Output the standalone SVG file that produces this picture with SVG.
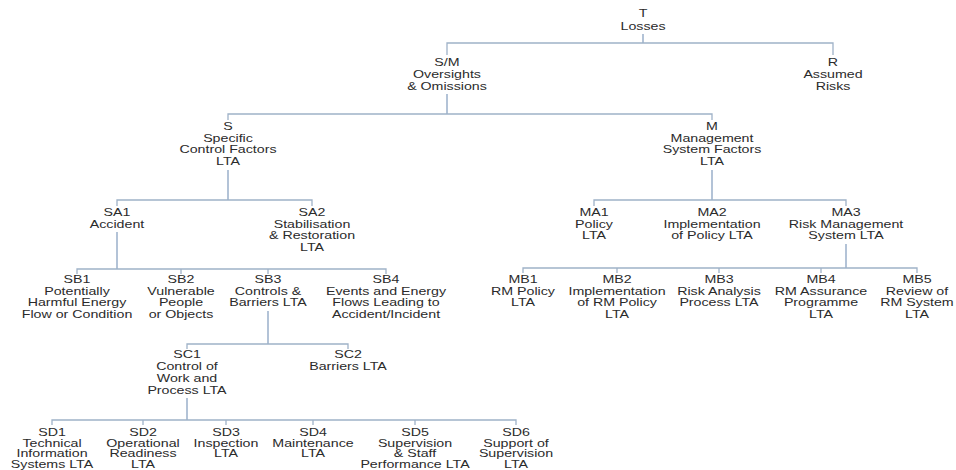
<svg xmlns="http://www.w3.org/2000/svg" width="956" height="470" viewBox="0 0 956 470">
<style>
text{font-family:"Liberation Sans",Arial,sans-serif;font-size:10.3px;fill:#2b2b2b;text-anchor:middle}
.c path{fill:none;stroke:#9fb2c8;stroke-width:1.3}
.c path.s{stroke:#8aa3c2}
</style>
<rect width="956" height="470" fill="#fff"/>
<g class="c" id="connectors">
<path class="s" d="M643 34V43"/>
<path d="M447 55V43H833V55"/>
<path class="s" d="M447 94V114"/>
<path d="M228 120V114H712V120"/>
<path class="s" d="M228 170V200"/>
<path d="M117 206V200H312V206"/>
<path class="s" d="M712 170V200"/>
<path d="M594 206V200H846V206"/>
<path class="s" d="M117 232V269"/>
<path d="M77 274V269H386V274M181 269V274M268 269V274"/>
<path class="s" d="M846 244V268"/>
<path d="M523 273V268H917V273M617 268V273M719 268V273M821 268V273"/>
<path class="s" d="M268 311V344"/>
<path d="M187 349V344H348V349"/>
<path class="s" d="M187 398V420"/>
<path d="M52 425V420H516V425M143 420V425M226 420V425M313 420V425M415 420V425"/>
</g>
<g id="T" transform="translate(643,0)"><text transform="scale(1.38 1)"><tspan x="0" y="17.5">T</tspan><tspan x="0" y="30.5">Losses</tspan></text></g>
<g id="SM" transform="translate(447,0)"><text transform="scale(1.38 1)"><tspan x="0" y="66.5">S/M</tspan><tspan x="0" y="78.5">Oversights</tspan><tspan x="0" y="90.5">&amp; Omissions</tspan></text></g>
<g id="R" transform="translate(833,0)"><text transform="scale(1.38 1)"><tspan x="0" y="66.5">R</tspan><tspan x="0" y="78.5">Assumed</tspan><tspan x="0" y="90.5">Risks</tspan></text></g>
<g id="S" transform="translate(228,0)"><text transform="scale(1.38 1)"><tspan x="0" y="130.5">S</tspan><tspan x="0" y="142">Specific</tspan><tspan x="0" y="153.5">Control Factors</tspan><tspan x="0" y="165">LTA</tspan></text></g>
<g id="M" transform="translate(712,0)"><text transform="scale(1.38 1)"><tspan x="0" y="130.5">M</tspan><tspan x="0" y="142">Management</tspan><tspan x="0" y="153.5">System Factors</tspan><tspan x="0" y="165">LTA</tspan></text></g>
<g id="SA1" transform="translate(117,0)"><text transform="scale(1.38 1)"><tspan x="0" y="216.5">SA1</tspan><tspan x="0" y="228">Accident</tspan></text></g>
<g id="SA2" transform="translate(312,0)"><text transform="scale(1.38 1)"><tspan x="0" y="216.5">SA2</tspan><tspan x="0" y="228">Stabilisation</tspan><tspan x="0" y="239.5">&amp; Restoration</tspan><tspan x="0" y="251">LTA</tspan></text></g>
<g id="MA1" transform="translate(594,0)"><text transform="scale(1.38 1)"><tspan x="0" y="216.5">MA1</tspan><tspan x="0" y="228">Policy</tspan><tspan x="0" y="239.5">LTA</tspan></text></g>
<g id="MA2" transform="translate(712,0)"><text transform="scale(1.38 1)"><tspan x="0" y="216.5">MA2</tspan><tspan x="0" y="228">Implementation</tspan><tspan x="0" y="239.5">of Policy LTA</tspan></text></g>
<g id="MA3" transform="translate(846,0)"><text transform="scale(1.38 1)"><tspan x="0" y="216.5">MA3</tspan><tspan x="0" y="228">Risk Management</tspan><tspan x="0" y="239.5">System LTA</tspan></text></g>
<g id="SB1" transform="translate(77,0)"><text transform="scale(1.38 1)"><tspan x="0" y="283.5">SB1</tspan><tspan x="0" y="295">Potentially</tspan><tspan x="0" y="306.5">Harmful Energy</tspan><tspan x="0" y="318">Flow or Condition</tspan></text></g>
<g id="SB2" transform="translate(181,0)"><text transform="scale(1.38 1)"><tspan x="0" y="283.5">SB2</tspan><tspan x="0" y="295">Vulnerable</tspan><tspan x="0" y="306.5">People</tspan><tspan x="0" y="318">or Objects</tspan></text></g>
<g id="SB3" transform="translate(268,0)"><text transform="scale(1.38 1)"><tspan x="0" y="283.5">SB3</tspan><tspan x="0" y="295">Controls &amp;</tspan><tspan x="0" y="306.5">Barriers LTA</tspan></text></g>
<g id="SB4" transform="translate(386,0)"><text transform="scale(1.38 1)"><tspan x="0" y="283.5">SB4</tspan><tspan x="0" y="295">Events and Energy</tspan><tspan x="0" y="306.5">Flows Leading to</tspan><tspan x="0" y="318">Accident/Incident</tspan></text></g>
<g id="MB1" transform="translate(523,0)"><text transform="scale(1.38 1)"><tspan x="0" y="283.5">MB1</tspan><tspan x="0" y="295">RM Policy</tspan><tspan x="0" y="306.5">LTA</tspan></text></g>
<g id="MB2" transform="translate(617,0)"><text transform="scale(1.38 1)"><tspan x="0" y="283.5">MB2</tspan><tspan x="0" y="295">Implementation</tspan><tspan x="0" y="306.5">of RM Policy</tspan><tspan x="0" y="318">LTA</tspan></text></g>
<g id="MB3" transform="translate(719,0)"><text transform="scale(1.38 1)"><tspan x="0" y="283.5">MB3</tspan><tspan x="0" y="295">Risk Analysis</tspan><tspan x="0" y="306.5">Process LTA</tspan></text></g>
<g id="MB4" transform="translate(821,0)"><text transform="scale(1.38 1)"><tspan x="0" y="283.5">MB4</tspan><tspan x="0" y="295">RM Assurance</tspan><tspan x="0" y="306.5">Programme</tspan><tspan x="0" y="318">LTA</tspan></text></g>
<g id="MB5" transform="translate(917,0)"><text transform="scale(1.38 1)"><tspan x="0" y="283.5">MB5</tspan><tspan x="0" y="295">Review of</tspan><tspan x="0" y="306.5">RM System</tspan><tspan x="0" y="318">LTA</tspan></text></g>
<g id="SC1" transform="translate(187,0)"><text transform="scale(1.38 1)"><tspan x="0" y="358.5">SC1</tspan><tspan x="0" y="370.5">Control of</tspan><tspan x="0" y="382.5">Work and</tspan><tspan x="0" y="394">Process LTA</tspan></text></g>
<g id="SC2" transform="translate(348,0)"><text transform="scale(1.38 1)"><tspan x="0" y="358.5">SC2</tspan><tspan x="0" y="370.5">Barriers LTA</tspan></text></g>
<g id="SD1" transform="translate(52,0)"><text transform="scale(1.38 1)"><tspan x="0" y="436.5">SD1</tspan><tspan x="0" y="447">Technical</tspan><tspan x="0" y="457.5">Information</tspan><tspan x="0" y="468">Systems LTA</tspan></text></g>
<g id="SD2" transform="translate(143,0)"><text transform="scale(1.38 1)"><tspan x="0" y="436.5">SD2</tspan><tspan x="0" y="447">Operational</tspan><tspan x="0" y="457.5">Readiness</tspan><tspan x="0" y="468">LTA</tspan></text></g>
<g id="SD3" transform="translate(226,0)"><text transform="scale(1.38 1)"><tspan x="0" y="436.5">SD3</tspan><tspan x="0" y="447">Inspection</tspan><tspan x="0" y="457.5">LTA</tspan></text></g>
<g id="SD4" transform="translate(313,0)"><text transform="scale(1.38 1)"><tspan x="0" y="436.5">SD4</tspan><tspan x="0" y="447">Maintenance</tspan><tspan x="0" y="457.5">LTA</tspan></text></g>
<g id="SD5" transform="translate(415,0)"><text transform="scale(1.38 1)"><tspan x="0" y="436.5">SD5</tspan><tspan x="0" y="447">Supervision</tspan><tspan x="0" y="457.5">&amp; Staff</tspan><tspan x="0" y="468">Performance LTA</tspan></text></g>
<g id="SD6" transform="translate(516,0)"><text transform="scale(1.38 1)"><tspan x="0" y="436.5">SD6</tspan><tspan x="0" y="447">Support of</tspan><tspan x="0" y="457.5">Supervision</tspan><tspan x="0" y="468">LTA</tspan></text></g>
</svg>
